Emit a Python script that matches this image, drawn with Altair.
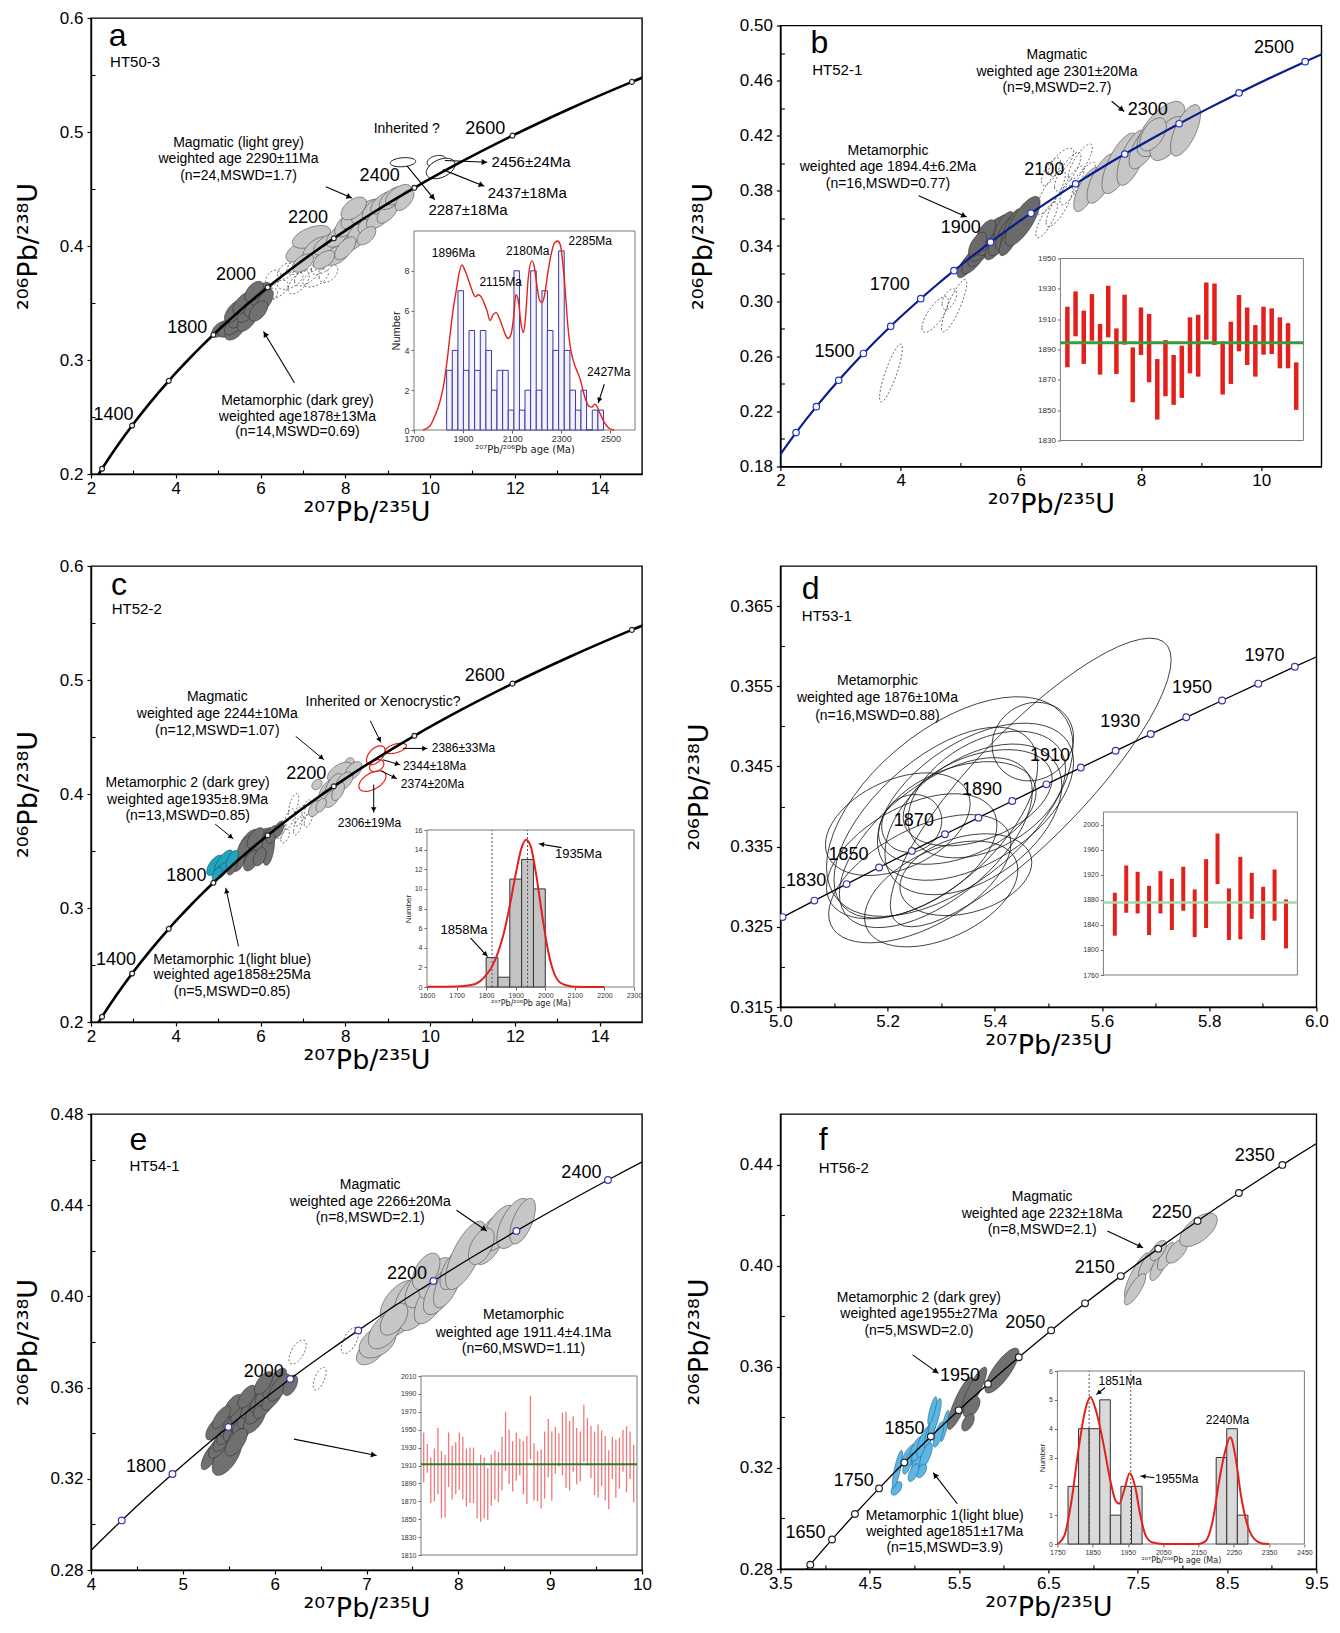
import math
import numpy as np
import pandas as pd
import altair as alt

alt.data_transformers.disable_max_rows()

SANS = "Liberation Sans, Arial, Helvetica, DejaVu Sans, sans-serif"
SUPF = "DejaVu Sans, Verdana, sans-serif"

# ---------------- Concordia reference points (age Ma, 207Pb/235U, 206Pb/238U)
CONC_AGE = [1100, 1200, 1300, 1400, 1500, 1600, 1650, 1700, 1750, 1800,
            1820, 1830, 1840, 1850, 1860, 1870, 1880, 1890, 1900, 1910, 1920, 1930, 1940, 1950,
            1960, 1970, 1980, 1990, 2000, 2050, 2100, 2150, 2200, 2250, 2300, 2350, 2400,
            2500, 2600, 2700, 2800, 2900]
CONC_X = [1.95452, 2.26030, 2.59774, 2.97010, 3.38099, 3.83443, 4.07843, 4.33477, 4.60402, 4.88691,
          5.00401, 5.06342, 5.12344, 5.18405, 5.24525, 5.30706, 5.36948, 5.43251, 5.49618, 5.56047,
          5.62540, 5.69093, 5.75715, 5.82402, 5.89156, 5.95977, 6.02873, 6.09830, 6.16854, 6.53036,
          6.91045, 7.30973, 7.72917, 8.16977, 8.63262, 9.11882, 9.62957, 10.72961, 11.94372, 13.28335,
          14.76166, 16.39294]
CONC_Y = [0.18606, 0.20460, 0.22343, 0.24256, 0.26199, 0.28172, 0.29170, 0.30175, 0.31189, 0.32210,
          0.32621, 0.32827, 0.33033, 0.33240, 0.33447, 0.33654, 0.33861, 0.34069, 0.34277, 0.34486,
          0.34695, 0.34904, 0.35113, 0.35323, 0.35533, 0.35744, 0.35954, 0.36165, 0.36377, 0.37439,
          0.38509, 0.39587, 0.40674, 0.41769, 0.42873, 0.43986, 0.45107, 0.47375, 0.49679, 0.52019,
          0.54396, 0.56810]

MARK_AC = [1200, 1400, 1600, 1800, 2000, 2200, 2400, 2600, 2800]
MARK_B = [1200, 1300, 1400, 1500, 1600, 1700, 1800, 1900, 2000, 2100, 2200, 2300, 2400, 2500]
MARK_D = [1820, 1830, 1840, 1850, 1860, 1870, 1880, 1890, 1900, 1910, 1920, 1930, 1940, 1950, 1960, 1970]
MARK_E = [1700, 1800, 1900, 2000, 2100, 2200, 2300, 2400]
MARK_F = [1600, 1650, 1700, 1750, 1800, 1850, 1900, 1950, 2000, 2050, 2100, 2150, 2200, 2250, 2300, 2350]
LINE_D = [1800, 1820, 1830, 1840, 1850, 1860, 1870, 1880, 1890, 1900, 1910, 1920, 1930, 1940, 1950,
          1960, 1970, 1980, 1990, 2000]

# ---------------- ellipses (cx, cy, sx, sy, rho)
A_DARK = [(5.05, 0.327, 0.20, 0.0070, 0.5), (5.25, 0.330, 0.25, 0.0100, 0.6), (5.38, 0.325, 0.22, 0.0075, 0.5),
          (5.45, 0.334, 0.30, 0.0120, 0.7), (5.55, 0.340, 0.30, 0.0120, 0.7), (5.40, 0.343, 0.25, 0.0100, 0.6),
          (5.70, 0.336, 0.25, 0.0110, 0.6), (5.75, 0.345, 0.30, 0.0120, 0.7), (5.60, 0.350, 0.25, 0.0100, 0.6),
          (5.90, 0.350, 0.28, 0.0120, 0.7), (6.00, 0.358, 0.25, 0.0100, 0.6), (5.85, 0.360, 0.22, 0.0090, 0.5),
          (6.10, 0.352, 0.20, 0.0100, 0.6), (5.95, 0.343, 0.22, 0.0090, 0.5)]
A_DASH = [(6.20, 0.356, 0.20, 0.0070, 0.5), (6.40, 0.362, 0.25, 0.0080, 0.5), (6.30, 0.372, 0.18, 0.0070, 0.4),
          (6.60, 0.378, 0.20, 0.0070, 0.4), (6.70, 0.370, 0.30, 0.0080, 0.5), (6.90, 0.368, 0.25, 0.0100, 0.6),
          (6.90, 0.383, 0.28, 0.0080, 0.5), (7.10, 0.375, 0.30, 0.0100, 0.6), (7.20, 0.388, 0.25, 0.0090, 0.5),
          (7.30, 0.372, 0.30, 0.0080, 0.5), (7.50, 0.385, 0.30, 0.0100, 0.6), (7.60, 0.376, 0.22, 0.0080, 0.4)]
A_LIGHT = [(6.90, 0.395, 0.30, 0.009, 0.5), (7.20, 0.408, 0.45, 0.010, 0.5), (7.30, 0.398, 0.30, 0.010, 0.6),
           (7.60, 0.402, 0.35, 0.010, 0.6), (7.80, 0.392, 0.30, 0.009, 0.5), (7.90, 0.410, 0.35, 0.011, 0.6),
           (8.10, 0.420, 0.35, 0.012, 0.6), (8.20, 0.405, 0.30, 0.010, 0.6), (8.30, 0.427, 0.40, 0.012, 0.6),
           (8.40, 0.415, 0.35, 0.012, 0.7), (8.50, 0.430, 0.35, 0.011, 0.6), (8.60, 0.421, 0.30, 0.010, 0.6),
           (8.70, 0.433, 0.30, 0.010, 0.6), (8.80, 0.425, 0.30, 0.010, 0.6), (8.90, 0.438, 0.30, 0.010, 0.6),
           (9.00, 0.430, 0.25, 0.010, 0.6), (9.10, 0.442, 0.30, 0.010, 0.6), (9.25, 0.445, 0.30, 0.009, 0.6),
           (7.50, 0.388, 0.25, 0.008, 0.5), (8.00, 0.398, 0.25, 0.010, 0.6), (7.00, 0.385, 0.25, 0.008, 0.5),
           (8.50, 0.409, 0.22, 0.008, 0.5), (9.40, 0.440, 0.22, 0.009, 0.6), (8.20, 0.433, 0.30, 0.010, 0.5)]
A_WHITE = [(9.36, 0.4735, 0.30, 0.0040, 0.2), (10.15, 0.4745, 0.22, 0.0050, 0.3), (10.25, 0.4680, 0.34, 0.0090, 0.4)]

B_DARK = [(5.10, 0.3260, 0.16, 0.0090, 0.7), (5.22, 0.3310, 0.20, 0.0110, 0.7), (5.32, 0.3360, 0.20, 0.0110, 0.7),
          (5.38, 0.3420, 0.22, 0.0130, 0.7), (5.48, 0.3440, 0.20, 0.0110, 0.7), (5.52, 0.3490, 0.22, 0.0120, 0.7),
          (5.58, 0.3400, 0.18, 0.0100, 0.7), (5.62, 0.3520, 0.20, 0.0110, 0.7), (5.68, 0.3460, 0.22, 0.0130, 0.7),
          (5.72, 0.3550, 0.16, 0.0100, 0.7), (5.78, 0.3500, 0.20, 0.0130, 0.7), (5.85, 0.3520, 0.18, 0.0150, 0.7),
          (5.80, 0.3440, 0.16, 0.0110, 0.7), (6.03, 0.3580, 0.29, 0.0180, 0.75), (5.42, 0.3500, 0.16, 0.0090, 0.6),
          (5.28, 0.3410, 0.15, 0.0090, 0.6)]
B_DASH = [(6.50, 0.379, 0.24, 0.016, 0.8), (6.64, 0.369, 0.22, 0.015, 0.8), (6.78, 0.394, 0.22, 0.014, 0.8),
          (6.99, 0.401, 0.20, 0.013, 0.8), (6.43, 0.359, 0.18, 0.013, 0.8), (6.85, 0.384, 0.20, 0.014, 0.8),
          (6.67, 0.401, 0.21, 0.010, 0.7), (7.06, 0.389, 0.18, 0.012, 0.8), (6.50, 0.394, 0.16, 0.010, 0.7),
          (4.575, 0.2903, 0.22, 0.013, 0.75), (4.89, 0.2966, 0.21, 0.019, 0.85), (4.81, 0.3015, 0.12, 0.0075, 0.5),
          (3.84, 0.2479, 0.19, 0.021, 0.85)]
B_LIGHT = [(7.10, 0.381, 0.22, 0.016, 0.7), (7.35, 0.389, 0.25, 0.018, 0.7), (7.65, 0.400, 0.30, 0.022, 0.7),
           (7.85, 0.404, 0.25, 0.020, 0.65), (8.05, 0.412, 0.25, 0.016, 0.65), (8.33, 0.4249, 0.40, 0.020, 0.65),
           (8.45, 0.418, 0.30, 0.016, 0.6), (8.74, 0.4239, 0.25, 0.0187, 0.65), (8.20, 0.421, 0.22, 0.012, 0.5)]

C_BLUE = [(4.93, 0.3374, 0.20, 0.0090, 0.6), (5.13, 0.3404, 0.22, 0.0105, 0.7), (5.08, 0.3328, 0.15, 0.0070, 0.6),
          (5.33, 0.3425, 0.15, 0.0080, 0.6), (4.98, 0.3298, 0.12, 0.0060, 0.5)]
C_DARK = [(5.58, 0.3464, 0.20, 0.0100, 0.6), (5.73, 0.3570, 0.25, 0.0120, 0.6), (5.88, 0.3510, 0.20, 0.0100, 0.6),
          (6.03, 0.3600, 0.20, 0.0100, 0.6), (6.18, 0.3540, 0.15, 0.0166, 0.3), (6.28, 0.3645, 0.15, 0.0080, 0.5),
          (5.48, 0.3400, 0.15, 0.0080, 0.5), (5.78, 0.3415, 0.18, 0.0090, 0.5), (5.63, 0.3540, 0.18, 0.0090, 0.6),
          (5.98, 0.3450, 0.15, 0.0080, 0.4), (6.43, 0.3690, 0.12, 0.0070, 0.5), (5.88, 0.3615, 0.20, 0.0090, 0.6),
          (5.33, 0.3360, 0.12, 0.0070, 0.5)]
C_DASH = [(6.48, 0.369, 0.12, 0.008, 0.6), (6.68, 0.378, 0.12, 0.009, 0.6), (6.78, 0.390, 0.12, 0.0105, 0.6),
          (6.93, 0.381, 0.12, 0.009, 0.6), (7.08, 0.387, 0.10, 0.008, 0.6), (6.88, 0.372, 0.10, 0.008, 0.6),
          (7.13, 0.378, 0.10, 0.007, 0.6), (6.58, 0.363, 0.10, 0.006, 0.5)]
C_LIGHT = [(8.09, 0.4264, 0.12, 0.0055, 0.3), (7.88, 0.4189, 0.30, 0.0090, 0.5), (8.19, 0.4204, 0.20, 0.0080, 0.5),
           (7.33, 0.4083, 0.12, 0.0045, 0.3), (7.58, 0.4038, 0.20, 0.0090, 0.6), (7.73, 0.4080, 0.20, 0.0100, 0.6),
           (7.48, 0.3947, 0.20, 0.0090, 0.6), (7.68, 0.3962, 0.18, 0.0080, 0.5), (7.28, 0.3872, 0.15, 0.0070, 0.5),
           (7.98, 0.4113, 0.20, 0.0080, 0.5), (7.43, 0.3902, 0.12, 0.0060, 0.4), (7.83, 0.4023, 0.15, 0.0080, 0.5)]
C_RED = [(9.19, 0.4400, 0.25, 0.0045, 0.5), (8.72, 0.4340, 0.22, 0.0083, 0.5), (8.74, 0.4249, 0.17, 0.0053, 0.3),
         (8.64, 0.4113, 0.32, 0.0090, 0.5)]

D_ELL = [(5.467, 0.3430, 0.262, 0.0180, 0.85), (5.316, 0.3400, 0.230, 0.0137, 0.55), (5.290, 0.3380, 0.190, 0.0119, 0.60),
         (5.290, 0.3355, 0.180, 0.0106, 0.60), (5.364, 0.3406, 0.183, 0.0098, 0.50), (5.360, 0.3384, 0.165, 0.0094, 0.45),
         (5.385, 0.3415, 0.147, 0.0079, 0.40), (5.245, 0.3338, 0.159, 0.0078, 0.50), (5.300, 0.3291, 0.143, 0.0066, 0.45),
         (5.330, 0.3392, 0.147, 0.0064, 0.40), (5.471, 0.3481, 0.076, 0.0049, 0.10), (5.245, 0.3379, 0.056, 0.0036, 0.10),
         (5.346, 0.3315, 0.123, 0.0051, 0.30), (5.219, 0.3378, 0.135, 0.0064, 0.40), (5.368, 0.3411, 0.139, 0.0060, 0.40),
         (5.260, 0.3310, 0.170, 0.0080, 0.55)]

E_DARK = [(5.30, 0.3300, 0.10, 0.0060, 0.7), (5.48, 0.3300, 0.16, 0.0085, 0.6), (5.40, 0.3350, 0.12, 0.0060, 0.7),
          (5.45, 0.3380, 0.12, 0.0060, 0.7), (5.50, 0.3410, 0.13, 0.0060, 0.7), (5.52, 0.3440, 0.12, 0.0055, 0.7),
          (5.58, 0.3430, 0.14, 0.0065, 0.7), (5.60, 0.3470, 0.12, 0.0060, 0.7), (5.62, 0.3400, 0.12, 0.0055, 0.6),
          (5.65, 0.3500, 0.13, 0.0060, 0.7), (5.68, 0.3450, 0.14, 0.0065, 0.7), (5.72, 0.3480, 0.13, 0.0060, 0.7),
          (5.75, 0.3520, 0.12, 0.0055, 0.7), (5.78, 0.3460, 0.12, 0.0060, 0.6), (5.82, 0.3510, 0.14, 0.0070, 0.7),
          (5.85, 0.3550, 0.12, 0.0060, 0.7), (5.90, 0.3530, 0.13, 0.0065, 0.7), (5.93, 0.3590, 0.14, 0.0070, 0.7),
          (5.98, 0.3560, 0.12, 0.0060, 0.7), (6.00, 0.3620, 0.13, 0.0065, 0.7), (6.05, 0.3600, 0.12, 0.0060, 0.7),
          (6.17, 0.3610, 0.08, 0.0045, 0.5), (5.55, 0.3520, 0.10, 0.0050, 0.6), (5.70, 0.3560, 0.10, 0.0050, 0.6),
          (5.35, 0.3420, 0.10, 0.0050, 0.6), (5.88, 0.3620, 0.10, 0.0050, 0.6), (5.42, 0.3470, 0.10, 0.0050, 0.7),
          (5.58, 0.3360, 0.12, 0.0060, 0.6)]
E_DASH = [(6.25, 0.3756, 0.094, 0.0053, 0.6), (6.49, 0.3639, 0.070, 0.0050, 0.6), (6.82, 0.3806, 0.094, 0.0058, 0.6)]
E_LIGHT = [(7.05, 0.3760, 0.16, 0.0060, 0.5), (7.12, 0.3800, 0.20, 0.0070, 0.4), (7.40, 0.3930, 0.25, 0.0110, 0.65),
           (7.35, 0.3980, 0.20, 0.0090, 0.6), (7.50, 0.4000, 0.20, 0.0100, 0.6), (7.55, 0.3950, 0.20, 0.0100, 0.6),
           (7.62, 0.4050, 0.20, 0.0100, 0.6), (7.70, 0.3980, 0.18, 0.0100, 0.6), (7.75, 0.4080, 0.18, 0.0090, 0.6),
           (7.80, 0.4020, 0.18, 0.0100, 0.6), (7.88, 0.4050, 0.15, 0.0100, 0.6), (7.95, 0.4120, 0.15, 0.0090, 0.6),
           (8.08, 0.4180, 0.22, 0.0150, 0.7), (8.35, 0.4250, 0.18, 0.0110, 0.6), (8.45, 0.4300, 0.18, 0.0100, 0.6),
           (8.60, 0.4320, 0.18, 0.0110, 0.6), (8.70, 0.4330, 0.14, 0.0100, 0.6), (7.20, 0.3850, 0.18, 0.0080, 0.5),
           (7.30, 0.3900, 0.15, 0.0070, 0.5), (7.65, 0.4110, 0.15, 0.0080, 0.5), (8.25, 0.4220, 0.14, 0.0080, 0.5)]

F_BLUE = [(4.80, 0.3119, 0.061, 0.0027, 0.5), (4.81, 0.3195, 0.057, 0.0075, 0.8), (4.96, 0.3249, 0.100, 0.0048, 0.6),
          (5.06, 0.3222, 0.094, 0.0048, 0.6), (5.04, 0.3277, 0.090, 0.0050, 0.6), (5.11, 0.3304, 0.085, 0.0062, 0.7),
          (5.18, 0.3345, 0.070, 0.0068, 0.8), (5.23, 0.3400, 0.070, 0.0075, 0.8), (5.34, 0.3366, 0.047, 0.0062, 0.8),
          (5.27, 0.3332, 0.060, 0.0050, 0.7), (5.13, 0.3249, 0.070, 0.0050, 0.7), (5.08, 0.3188, 0.057, 0.0027, 0.5),
          (5.20, 0.3427, 0.050, 0.0055, 0.8), (4.99, 0.3181, 0.060, 0.0035, 0.6), (4.92, 0.3215, 0.050, 0.0040, 0.6)]
F_DARK = [(5.51, 0.3455, 0.14, 0.0103, 0.85), (5.67, 0.3510, 0.14, 0.0089, 0.85), (5.64, 0.3441, 0.094, 0.0041, 0.5),
          (5.60, 0.3380, 0.07, 0.0034, 0.5), (5.98, 0.3585, 0.19, 0.0089, 0.8)]
F_LIGHT = [(7.49, 0.3962, 0.14, 0.0089, 0.85), (7.63, 0.4016, 0.12, 0.0062, 0.8), (7.73, 0.3996, 0.094, 0.0055, 0.7),
           (7.82, 0.4037, 0.10, 0.0055, 0.7), (7.94, 0.4058, 0.12, 0.0048, 0.6), (8.18, 0.4142, 0.21, 0.0066, 0.6),
           (7.73, 0.4060, 0.09, 0.0040, 0.6), (7.47, 0.3907, 0.12, 0.0062, 0.8)]

# ---------------- inset data
HIST_A_LEFT = [1833, 1856, 1879, 1901, 1924, 1947, 1970, 1993, 2015, 2038, 2061, 2084, 2107, 2129,
               2152, 2175, 2198, 2221, 2243, 2266, 2289, 2312, 2335, 2357, 2380, 2403, 2426, 2449]
HIST_A_COUNT = [3, 4, 7, 3, 5, 3, 5, 4, 2, 3, 3, 1, 8, 1, 2, 8, 2, 7, 5, 4, 9, 4, 2, 1, 2, 0, 1, 1]
HIST_A_WIDTH = 22.8
KDE_A_AGE = [1737, 1765, 1785, 1805, 1820, 1835, 1847, 1860, 1872, 1884, 1895, 1908, 1923, 1937, 1950, 1962,
             1973, 1985, 1997, 2010, 2022, 2035, 2048, 2060, 2072, 2083, 2095, 2105, 2115, 2125, 2135, 2146,
             2155, 2165, 2180, 2190, 2200, 2212, 2222, 2232, 2245, 2258, 2272, 2285, 2296, 2306, 2316, 2326,
             2336, 2346, 2356, 2366, 2378, 2390, 2400, 2412, 2425, 2435, 2445, 2455, 2470, 2485, 2500, 2515]
KDE_A_VAL = [0.0, 0.2, 0.7, 1.4, 2.2, 3.5, 4.8, 6.1, 7.0, 7.9, 8.3, 8.0, 7.5, 7.0, 6.7, 6.8,
             6.7, 6.4, 6.0, 5.5, 5.8, 5.9, 5.6, 5.2, 4.8, 4.6, 4.8, 5.6, 6.8, 6.5, 5.4, 4.9,
             5.8, 7.6, 8.5, 8.2, 7.3, 6.5, 6.4, 6.8, 7.9, 8.8, 9.4, 9.5, 9.3, 8.4, 7.0, 5.3,
             4.2, 3.6, 3.2, 2.9, 2.5, 1.9, 1.5, 1.2, 1.15, 1.3, 1.2, 0.9, 0.5, 0.2, 0.05, 0.0]

B_LO = [1878.3, 1898.7, 1880.5, 1895.8, 1873.4, 1898.0, 1873.9, 1893.2, 1855.2, 1886.4,
        1868.4, 1843.8, 1859.2, 1853.5, 1858.1, 1874.3, 1872.1, 1896.5, 1893.0, 1860.3,
        1867.3, 1888.8, 1879.8, 1872.1, 1886.6, 1887.0, 1877.6, 1877.6, 1850.2]
B_HI = [1918.2, 1928.3, 1915.6, 1926.5, 1906.8, 1932.0, 1903.9, 1926.1, 1891.4, 1917.7,
        1913.4, 1883.7, 1896.2, 1886.4, 1892.5, 1911.2, 1912.9, 1934.2, 1933.5, 1895.2,
        1908.3, 1925.9, 1917.7, 1906.1, 1918.2, 1917.1, 1911.2, 1907.4, 1881.5]
B_MEAN = 1894.4

HIST_C_LEFT = [1800, 1840, 1880, 1920, 1960]
HIST_C_COUNT = [3, 1, 11, 13, 10]
HIST_C_WIDTH = 40
KDE_C_AGE = [1600, 1700, 1750, 1780, 1800, 1820, 1840, 1860, 1880, 1900, 1920, 1935, 1950, 1970, 1990,
             2010, 2030, 2050, 2080, 2100, 2200]
KDE_C_VAL = [0.02, 0.05, 0.2, 0.6, 1.2, 2.1, 3.5, 5.5, 8.3, 11.5, 14.2, 15.0, 14.4, 11.3, 7.2,
             3.6, 1.4, 0.45, 0.1, 0.03, 0.0]
PEAK_C = [1820, 1940]

D_LO = [1822.7, 1859.3, 1858.2, 1823.7, 1858.2, 1831.7, 1862.5, 1820.5, 1834.9, 1905.0,
        1815.8, 1816.8, 1849.7, 1815.8, 1846.6, 1802.5]
D_HI = [1891.2, 1934.7, 1924.6, 1902.3, 1925.7, 1913.5, 1932.6, 1896.5, 1944.8, 1985.7,
        1898.1, 1948.5, 1923.0, 1900.7, 1928.3, 1880.5]
D_MEAN = 1875.8

E_LO = [1891, 1902, 1868, 1870, 1878, 1851, 1852, 1886, 1872, 1878,
        1883, 1872, 1864, 1868, 1868, 1851, 1847, 1851, 1849, 1865,
        1872, 1869, 1882, 1904, 1889, 1881, 1893, 1899, 1878, 1867,
        1917, 1871, 1870, 1862, 1873, 1897, 1871, 1901, 1909, 1899,
        1885, 1882, 1903, 1889, 1892, 1914, 1910, 1896, 1877, 1874,
        1887, 1871, 1861, 1895, 1874, 1884, 1903, 1880, 1895, 1869]
E_HI = [1947, 1934, 1919, 1929, 1952, 1926, 1922, 1947, 1932, 1936,
        1947, 1942, 1929, 1930, 1930, 1912, 1922, 1919, 1907, 1922,
        1927, 1925, 1942, 1970, 1950, 1937, 1947, 1940, 1937, 1943,
        1988, 1935, 1926, 1928, 1948, 1962, 1948, 1953, 1946, 1969,
        1970, 1960, 1965, 1952, 1948, 1978, 1963, 1954, 1948, 1956,
        1949, 1943, 1927, 1942, 1939, 1941, 1950, 1954, 1948, 1933]
E_MEAN = 1911.4

HIST_F_LEFT = [1780, 1810, 1840, 1870, 1900, 1930, 1960, 2200, 2230, 2260]
HIST_F_COUNT = [2, 4, 4, 5, 1, 2, 2, 3, 4, 1]
HIST_F_WIDTH = 30
KDE_F_AGE = [1750, 1770, 1790, 1810, 1830, 1843, 1860, 1880, 1900, 1915, 1925, 1940, 1955, 1970, 1985,
             2000, 2020, 2050, 2150, 2170, 2190, 2210, 2225, 2240, 2255, 2270, 2290, 2310, 2330, 2350]
KDE_F_VAL = [0.0, 0.3, 1.5, 3.3, 4.7, 5.1, 4.6, 3.5, 2.2, 1.5, 1.4, 1.9, 2.45, 2.0, 1.0,
             0.3, 0.05, 0.0, 0.0, 0.1, 0.8, 2.3, 3.2, 3.7, 3.0, 1.7, 0.6, 0.15, 0.02, 0.0]
PEAK_F = [1840, 1958]

CONC = pd.DataFrame({"age": CONC_AGE, "x": CONC_X, "y": CONC_Y})


# ---------------- helpers
def mscale(xd, yd):
    return (alt.Scale(domain=xd, nice=False, zero=False),
            alt.Scale(domain=yd, nice=False, zero=False))


def main_axes(xvals, xfmt, yvals, yfmt, ext=40, tpad=9):
    common = dict(grid=False, labelFont=SANS, labelFontSize=17, labelColor="black", labelFlush=False,
                  labelOverlap=False, tickSize=4, tickColor="black", tickWidth=1.2,
                  domainColor="black", domainWidth=1.4, titleFont=SUPF, titleFontSize=27,
                  titleFontWeight="normal", titleColor="black")
    xa = alt.Axis(values=xvals, format=xfmt, title="²⁰⁷Pb/²³⁵U", labelPadding=2, titlePadding=3, **common)
    ya = alt.Axis(values=yvals, format=yfmt, title="²⁰⁶Pb/²³⁸U", labelPadding=4, titlePadding=tpad,
                  minExtent=ext, maxExtent=ext, **common)
    return xa, ya


def minor_ticks(sx, sy, xd, yd, xvals, yvals, W, H):
    df = pd.DataFrame({"v": [(xd[0] + xd[1]) / 2.0], "w": [(yd[0] + yd[1]) / 2.0]})
    tk = dict(labels=False, domain=False, grid=False, ticks=True, tickSize=4, tickColor="black",
              tickWidth=1.1, title=None)
    xa = alt.Axis(orient="top", offset=-H, values=xvals, **tk)
    ya = alt.Axis(orient="right", offset=-W, values=yvals, **tk)
    return alt.Chart(df).mark_point(opacity=0).encode(
        x=alt.X("v:Q", scale=sx, axis=xa), y=alt.Y("w:Q", scale=sy, axis=ya))


def ellipse_df(params, n=28):
    rows = []
    for i, (cx, cy, sx, sy, rho) in enumerate(params):
        c = math.sqrt(max(0.0, 1.0 - rho * rho))
        for k in range(n + 1):
            u = -math.cos(math.pi * k / n)
            w = math.sqrt(max(0.0, 1.0 - u * u))
            rows.append((i, round(cx + sx * u, 5),
                         round(cy + sy * (rho * u - c * w), 6),
                         round(cy + sy * (rho * u + c * w), 6)))
    return pd.DataFrame(rows, columns=["eid", "x", "ylo", "yhi"])


def ellipses(params, sx, sy, fill=None, stroke="#333333", sw=0.6, dash=None):
    kw = dict(stroke=stroke, strokeWidth=sw, clip=True, interpolate="linear", opacity=1)
    if fill is None:
        kw.update(fill="white", fillOpacity=0)
    else:
        kw.update(fill=fill, fillOpacity=1)
    if dash is not None:
        kw["strokeDash"] = dash
    return alt.Chart(ellipse_df(params)).mark_area(**kw).encode(
        x=alt.X("x:Q", scale=sx, axis=None),
        y=alt.Y("ylo:Q", scale=sy, axis=None, stack=None),
        y2="yhi:Q",
        detail="eid:N")


def concordia(sx, sy, xa, ya, ages_line, ages_mark, color, width, mstroke, msize):
    dl = CONC[CONC["age"].isin(ages_line)]
    dm = CONC[CONC["age"].isin(ages_mark)]
    line = alt.Chart(dl).mark_line(color=color, strokeWidth=width, interpolate="monotone", clip=True).encode(
        x=alt.X("x:Q", scale=sx, axis=xa), y=alt.Y("y:Q", scale=sy, axis=ya))
    pts = alt.Chart(dm).mark_point(shape="circle", filled=True, fill="white", stroke=mstroke, strokeWidth=1.2,
                                   size=msize, opacity=1, clip=True).encode(
        x=alt.X("x:Q", scale=sx, axis=None), y=alt.Y("y:Q", scale=sy, axis=None))
    return [line, pts]


def texts(items, sx, sy, size, align="center", color="black", font=SANS):
    df = pd.DataFrame(items, columns=["t", "x", "y"])
    return alt.Chart(df).mark_text(font=font, fontSize=size, align=align, baseline="middle", color=color).encode(
        x=alt.X("x:Q", scale=sx, axis=None), y=alt.Y("y:Q", scale=sy, axis=None), text="t:N")


def arrows(items, sx, sy, kx, ky, color="black", width=1.1, head=38):
    df = pd.DataFrame(items, columns=["x1", "y1", "x2", "y2"])
    dxs = (df["x2"] - df["x1"]) * kx
    dys = (df["y2"] - df["y1"]) * ky
    ln = np.hypot(dxs, dys)
    df["ang"] = (np.degrees(np.arctan2(dxs, dys)) + 360.0) % 360.0
    df["hx"] = df["x2"] - dxs / ln * 3.0 / kx
    df["hy"] = df["y2"] - dys / ln * 3.0 / ky
    shaft = alt.Chart(df).mark_rule(color=color, strokeWidth=width).encode(
        x=alt.X("x1:Q", scale=sx, axis=None), y=alt.Y("y1:Q", scale=sy, axis=None),
        x2="x2:Q", y2="y2:Q")
    tip = alt.Chart(df).mark_point(shape="triangle-up", filled=True, color=color, size=head, opacity=1).encode(
        x=alt.X("hx:Q", scale=sx, axis=None), y=alt.Y("hy:Q", scale=sy, axis=None),
        angle=alt.Angle("ang:Q", scale=None))
    return [shaft, tip]


def inset_scales(xd, yd, xr, yr):
    return (alt.Scale(domain=xd, range=[xr[0], xr[1]], nice=False, zero=False),
            alt.Scale(domain=yd, range=[yr[1], yr[0]], nice=False, zero=False))


def inset_xaxis(values, H, ybot, title, fs=8, tfs=9):
    return alt.Axis(orient="bottom", offset=ybot - H, values=values, format="d", grid=False, domain=False,
                    labelFont=SANS, labelFontSize=fs, labelColor="#333333", labelFlush=False, labelPadding=1,
                    labelOverlap=False, tickSize=3, tickColor="#666666",
                    title=title, titleFont=SUPF, titleFontSize=tfs, titleFontWeight="normal",
                    titleColor="#222222", titlePadding=1)


def inset_yaxis(values, x0, title, fs=8, tfs=9):
    return alt.Axis(orient="left", offset=-x0, values=values, format="d", grid=False, domain=False,
                    labelFont=SANS, labelFontSize=fs, labelColor="#333333", labelPadding=2,
                    labelOverlap=False, tickSize=3, tickColor="#666666",
                    title=title, titleFont=SANS, titleFontSize=tfs, titleFontWeight="normal",
                    titleColor="#222222", titlePadding=2)


def inset_frame(xd, yd, sx, sy, xaxis, yaxis):
    df = pd.DataFrame({"x0": [xd[0]], "x1": [xd[1]], "y0": [yd[0]], "y1": [yd[1]]})
    return alt.Chart(df).mark_rect(fill="white", stroke="#7a7a7a", strokeWidth=1).encode(
        x=alt.X("x0:Q", scale=sx, axis=xaxis), x2="x1:Q",
        y=alt.Y("y0:Q", scale=sy, axis=yaxis), y2="y1:Q")


def hist_layer(lefts, counts, width, sx, sy, fill, stroke, sw=1.0):
    df = pd.DataFrame({"l": lefts, "c": counts})
    df["r"] = df["l"] + width
    df["z"] = 0
    return alt.Chart(df).mark_rect(fill=fill, stroke=stroke, strokeWidth=sw).encode(
        x=alt.X("l:Q", scale=sx, axis=None), x2="r:Q",
        y=alt.Y("z:Q", scale=sy, axis=None), y2="c:Q")


def curve_layer(xs, ys, sx, sy, color="#e3201b", w=1.6):
    df = pd.DataFrame({"a": xs, "v": ys})
    return alt.Chart(df).mark_line(color=color, strokeWidth=w, interpolate="monotone").encode(
        x=alt.X("a:Q", scale=sx, axis=None), y=alt.Y("v:Q", scale=sy, axis=None))


def bars_layer(los, his, sx, sy, color, w):
    df = pd.DataFrame({"i": list(range(1, len(los) + 1)), "lo": los, "hi": his})
    return alt.Chart(df).mark_rule(color=color, strokeWidth=w).encode(
        x=alt.X("i:Q", scale=sx, axis=None), y=alt.Y("lo:Q", scale=sy, axis=None), y2="hi:Q")


def hline_layer(yv, xd, sx, sy, color, w):
    df = pd.DataFrame({"x0": [xd[0]], "x1": [xd[1]], "y": [yv]})
    return alt.Chart(df).mark_rule(color=color, strokeWidth=w).encode(
        x=alt.X("x0:Q", scale=sx, axis=None), x2="x1:Q", y=alt.Y("y:Q", scale=sy, axis=None))


def vlines_layer(xs, y0, y1, sx, sy, color="#555555"):
    df = pd.DataFrame({"x": xs, "y0": [y0] * len(xs), "y1": [y1] * len(xs)})
    return alt.Chart(df).mark_rule(color=color, strokeWidth=1, strokeDash=[2, 2]).encode(
        x=alt.X("x:Q", scale=sx, axis=None), y=alt.Y("y0:Q", scale=sy, axis=None), y2="y1:Q")


def panel(main_layers, inset_layers, W, H):
    return (alt.layer(*main_layers, *inset_layers)
            .resolve_scale(x="independent", y="independent")
            .resolve_axis(x="independent", y="independent")
            .properties(width=W, height=H))


DARK = "#707070"
LIGHT = "#c6c6c6"
EDGE = "#333333"
DASH = [2, 2]

# =============== panel a ===============
WA, HA = 551, 456
XDA, YDA = [2, 15], [0.2, 0.6]
sxa, sya = mscale(XDA, YDA)
xaa, yaa = main_axes([2, 4, 6, 8, 10, 12, 14], "d", [0.2, 0.3, 0.4, 0.5, 0.6], ".1f")
ka = (WA / 13.0, HA / 0.4)
A_AGE_LABELS = [("1400", 2.53, 0.252), ("1800", 4.27, 0.328), ("2000", 5.42, 0.375), ("2200", 7.12, 0.425),
                ("2400", 8.81, 0.461), ("2600", 11.3, 0.503)]
A_NOTES = [("Inherited ?", 9.45, 0.503), ("Magmatic (light grey)", 5.48, 0.490),
           ("weighted age 2290±11Ma", 5.48, 0.476), ("(n=24,MSWD=1.7)", 5.48, 0.461),
           ("Metamorphic (dark grey)", 6.87, 0.264), ("weighted age1878±13Ma", 6.87, 0.250),
           ("(n=14,MSWD=0.69)", 6.87, 0.237)]
A_AGE_NOTES = [("2456±24Ma", 11.45, 0.474), ("2437±18Ma", 11.36, 0.4465), ("2287±18Ma", 9.96, 0.4315)]
A_ARROWS = [(10.35, 0.475, 11.35, 0.4735), (10.3, 0.467, 11.28, 0.4525), (9.46, 0.470, 10.11, 0.4405),
            (7.54, 0.452, 8.16, 0.442), (6.80, 0.280, 6.07, 0.325)]
main_a = [
    ellipses(A_DASH, sxa, sya, None, "#444444", 0.8, DASH),
    ellipses(A_DARK, sxa, sya, DARK, EDGE),
    ellipses(A_LIGHT, sxa, sya, LIGHT, "#4a4a4a"),
    ellipses(A_WHITE, sxa, sya, "white", "#111111", 1.0),
    *concordia(sxa, sya, xaa, yaa, CONC_AGE, MARK_AC, "black", 2.6, "#222222", 24),
    minor_ticks(sxa, sya, XDA, YDA, [3, 5, 7, 9, 11, 13], [0.25, 0.35, 0.45, 0.55], WA, HA),
    texts([("a", 2.42, 0.584)], sxa, sya, 32, align="left"),
    texts([("HT50-3", 2.45, 0.5615)], sxa, sya, 15, align="left"),
    texts(A_AGE_LABELS, sxa, sya, 18),
    texts(A_NOTES, sxa, sya, 14),
    texts(A_AGE_NOTES, sxa, sya, 15, align="left"),
    *arrows(A_ARROWS, sxa, sya, ka[0], ka[1]),
]
IXA, IYA = (323, 544), (213, 412)
IXDA, IYDA = [1700, 2600], [0, 10]
ixa, iya = inset_scales(IXDA, IYDA, IXA, IYA)
kia = ((IXA[1] - IXA[0]) / 900.0, (IYA[1] - IYA[0]) / 10.0)
inset_a = [
    inset_frame(IXDA, IYDA, ixa, iya,
                inset_xaxis([1700, 1900, 2100, 2300, 2500], HA, IYA[1], "²⁰⁷Pb/²⁰⁶Pb age (Ma)", 9, 10),
                inset_yaxis([0, 2, 4, 6, 8], IXA[0], "Number", 9, 11)),
    hist_layer(HIST_A_LEFT, HIST_A_COUNT, HIST_A_WIDTH, ixa, iya, "#f2f2fb", "#3b3ba0", 1.0),
    curve_layer(KDE_A_AGE, KDE_A_VAL, ixa, iya, "#e3201b", 1.4),
    texts([("1896Ma", 1861, 8.9), ("2115Ma", 2053, 7.45), ("2180Ma", 2163, 9.0), ("2285Ma", 2418, 9.5),
           ("2427Ma", 2493, 2.9)], ixa, iya, 12),
    *arrows([(2475, 2.3, 2450, 1.35)], ixa, iya, kia[0], kia[1], head=30),
]
panel_a = panel(main_a, inset_a, WA, HA)

# =============== panel b ===============
WB, HB = 541, 441
XDB, YDB = [2, 11], [0.18, 0.50]
sxb, syb = mscale(XDB, YDB)
xab, yab = main_axes([2, 4, 6, 8, 10], "d", [0.18, 0.22, 0.26, 0.30, 0.34, 0.38, 0.42, 0.46, 0.50], ".2f",
                     ext=46, tpad=17)
kb = (WB / 9.0, HB / 0.32)
B_AGE_LABELS = [("1500", 2.9, 0.2628), ("1700", 3.82, 0.3115), ("1900", 5.0, 0.3527), ("2100", 6.39, 0.3952),
                ("2300", 8.11, 0.4388), ("2500", 10.21, 0.4838)]
B_NOTES = [("Magmatic", 6.6, 0.4788), ("weighted age 2301±20Ma", 6.6, 0.4663), ("(n=9,MSWD=2.7)", 6.6, 0.4543),
           ("Metamorphic", 3.79, 0.4089), ("weighted age 1894.4±6.2Ma", 3.79, 0.3971),
           ("(n=16,MSWD=0.77)", 3.79, 0.3852)]
B_ARROWS = [(7.51, 0.445, 7.72, 0.4376), (4.30, 0.3764, 5.10, 0.3610)]
main_b = [
    ellipses(B_DASH, sxb, syb, None, "#444444", 0.8, DASH),
    ellipses(B_DARK, sxb, syb, "#6a6a6a", EDGE),
    ellipses(B_LIGHT, sxb, syb, LIGHT, "#4a4a4a"),
    *concordia(sxb, syb, xab, yab, CONC_AGE, MARK_B, "#0b1c8c", 2.2, "#2233cc", 42),
    minor_ticks(sxb, syb, XDB, YDB, [3, 5, 7, 9], [0.20, 0.24, 0.28, 0.32, 0.36, 0.40, 0.44, 0.48], WB, HB),
    texts([("b", 2.5, 0.4875)], sxb, syb, 32, align="left"),
    texts([("HT52-1", 2.53, 0.4676)], sxb, syb, 15, align="left"),
    texts(B_AGE_LABELS, sxb, syb, 18),
    texts(B_NOTES, sxb, syb, 14),
    *arrows(B_ARROWS, sxb, syb, kb[0], kb[1]),
]
IXB, IYB = (280, 523), (233, 415)
IXDB, IYDB = [0.145, 29.88], [1830, 1950]
ixb, iyb = inset_scales(IXDB, IYDB, IXB, IYB)
inset_b = [
    inset_frame(IXDB, IYDB, ixb, iyb, None,
                inset_yaxis([1830, 1850, 1870, 1890, 1910, 1930, 1950], IXB[0], None, 8)),
    bars_layer(B_LO, B_HI, ixb, iyb, "#e3201b", 4.5),
    hline_layer(B_MEAN, IXDB, ixb, iyb, "#3a9b3a", 3),
]
panel_b = panel(main_b, inset_b, WB, HB)

# =============== panel c ===============
WC, HC = 551, 456
XDC, YDC = [2, 15], [0.2, 0.6]
sxc, syc = mscale(XDC, YDC)
xac, yac = main_axes([2, 4, 6, 8, 10, 12, 14], "d", [0.2, 0.3, 0.4, 0.5, 0.6], ".1f")
kc = (WC / 13.0, HC / 0.4)
C_AGE_LABELS = [("1400", 2.59, 0.2543), ("1800", 4.25, 0.3283), ("2200", 7.08, 0.4174), ("2600", 11.29, 0.5034)]
C_NOTES = [("Magmatic", 4.98, 0.4847), ("weighted age 2244±10Ma", 4.98, 0.4702), ("(n=12,MSWD=1.07)", 4.98, 0.4557),
           ("Inherited or Xenocrystic?", 8.89, 0.4808),
           ("Metamorphic 2 (dark grey)", 4.28, 0.4098), ("weighted age1935±8.9Ma", 4.28, 0.3947),
           ("(n=13,MSWD=0.85)", 4.28, 0.3805),
           ("Metamorphic 1(light blue)", 5.33, 0.2543), ("weighted age1858±25Ma", 5.33, 0.2408),
           ("(n=5,MSWD=0.85)", 5.33, 0.2263)]
C_SMALL_LEFT = [("2386±33Ma", 10.04, 0.4406), ("2344±18Ma", 9.36, 0.4243), ("2374±20Ma", 9.31, 0.4092)]
C_SMALL_CENTER = [("2306±19Ma", 8.57, 0.3745)]
C_ARROWS = [(6.83, 0.4506, 7.50, 0.430), (8.59, 0.4642, 8.84, 0.4451), (9.36, 0.440, 9.94, 0.440),
            (8.89, 0.430, 9.30, 0.4255), (8.84, 0.4204, 9.22, 0.4134), (8.67, 0.4083, 8.67, 0.3836),
            (4.93, 0.3736, 5.36, 0.3606), (5.48, 0.2664, 5.18, 0.3177)]
main_c = [
    ellipses(C_DASH, sxc, syc, None, "#444444", 0.8, DASH),
    ellipses(C_DARK, sxc, syc, DARK, EDGE),
    ellipses(C_BLUE, sxc, syc, "#22a3bd", "#1d4f5a"),
    ellipses(C_LIGHT, sxc, syc, LIGHT, "#4a4a4a"),
    ellipses(C_RED, sxc, syc, None, "#e3201b", 1.2),
    *concordia(sxc, syc, xac, yac, CONC_AGE, MARK_AC, "black", 2.6, "#222222", 24),
    minor_ticks(sxc, syc, XDC, YDC, [3, 5, 7, 9, 11, 13], [0.25, 0.35, 0.45, 0.55], WC, HC),
    texts([("c", 2.47, 0.583)], sxc, syc, 32, align="left"),
    texts([("HT52-2", 2.49, 0.562)], sxc, syc, 15, align="left"),
    texts(C_AGE_LABELS, sxc, syc, 18),
    texts(C_NOTES, sxc, syc, 14),
    texts(C_SMALL_LEFT, sxc, syc, 12, align="left"),
    texts(C_SMALL_CENTER, sxc, syc, 12),
    *arrows(C_ARROWS, sxc, syc, kc[0], kc[1], width=1.0, head=30),
]
IXC, IYC = (336, 543), (264, 421)
IXDC, IYDC = [1600, 2300], [0, 16]
ixc, iyc = inset_scales(IXDC, IYDC, IXC, IYC)
kic = ((IXC[1] - IXC[0]) / 700.0, (IYC[1] - IYC[0]) / 16.0)
inset_c = [
    inset_frame(IXDC, IYDC, ixc, iyc,
                inset_xaxis([1600, 1700, 1800, 1900, 2000, 2100, 2200, 2300], HC, IYC[1],
                            "²⁰⁷Pb/²⁰⁶Pb age (Ma)", 7, 8),
                inset_yaxis([0, 2, 4, 6, 8, 10, 12, 14, 16], IXC[0], "Number", 7, 8)),
    hist_layer(HIST_C_LEFT, HIST_C_COUNT, HIST_C_WIDTH, ixc, iyc, "#c4c4c4", "#333333", 1.0),
    vlines_layer(PEAK_C, 0, 16, ixc, iyc),
    curve_layer(KDE_C_AGE, KDE_C_VAL, ixc, iyc, "#e3201b", 2.0),
    texts([("1935Ma", 2112, 13.6), ("1858Ma", 1725, 5.8)], ixc, iyc, 13),
    *arrows([(2055, 14.2, 1978, 14.6), (1747, 5.0, 1805, 3.1)], ixc, iyc, kic[0], kic[1], head=28),
]
panel_c = panel(main_c, inset_c, WC, HC)

# =============== panel d ===============
WD, HD = 536, 441
XDD, YDD = [5.0, 6.0], [0.315, 0.370]
sxd, syd = mscale(XDD, YDD)
xad, yad = main_axes([5.0, 5.2, 5.4, 5.6, 5.8, 6.0], ".1f", [0.315, 0.325, 0.335, 0.345, 0.355, 0.365], ".3f",
                     ext=52, tpad=15)
D_AGE_LABELS = [("1830", 5.048, 0.3307), ("1850", 5.127, 0.334), ("1870", 5.249, 0.3382), ("1890", 5.376, 0.3421),
                ("1910", 5.503, 0.3463), ("1930", 5.634, 0.3506), ("1950", 5.768, 0.3548), ("1970", 5.903, 0.3588)]
D_NOTES = [("Metamorphic", 5.181, 0.3556), ("weighted age 1876±10Ma", 5.181, 0.3535), ("(n=16,MSWD=0.88)", 5.181, 0.3513)]
main_d = [
    ellipses(D_ELL, sxd, syd, None, "#111111", 0.8),
    *concordia(sxd, syd, xad, yad, LINE_D, MARK_D, "black", 1.3, "#3a3aa8", 45),
    minor_ticks(sxd, syd, XDD, YDD, [5.1, 5.3, 5.5, 5.7, 5.9], [0.32, 0.33, 0.34, 0.35, 0.36], WD, HD),
    texts([("d", 5.04, 0.3671)], sxd, syd, 32, align="left"),
    texts([("HT53-1", 5.04, 0.3638)], sxd, syd, 15, align="left"),
    texts(D_AGE_LABELS, sxd, syd, 18),
    texts(D_NOTES, sxd, syd, 14),
]
IXD, IYD = (323, 517), (246, 409)
IXDD, IYDD = [0, 17], [1760, 2020]
ixd, iyd = inset_scales(IXDD, IYDD, IXD, IYD)
inset_d = [
    inset_frame(IXDD, IYDD, ixd, iyd, None,
                inset_yaxis([1760, 1800, 1840, 1880, 1920, 1960, 2000], IXD[0], None, 7)),
    bars_layer(D_LO, D_HI, ixd, iyd, "#e3201b", 4),
    hline_layer(D_MEAN, IXDD, ixd, iyd, "#a6d9a6", 2.5),
]
panel_d = panel(main_d, inset_d, WD, HD)

# =============== panel e ===============
WE, HE = 551, 456
XDE, YDE = [4, 10], [0.28, 0.48]
sxe, sye = mscale(XDE, YDE)
xae, yae = main_axes([4, 5, 6, 7, 8, 9, 10], "d", [0.28, 0.32, 0.36, 0.40, 0.44, 0.48], ".2f")
ke = (WE / 6.0, HE / 0.2)
E_AGE_LABELS = [("1800", 4.6, 0.3252), ("2000", 5.88, 0.367), ("2200", 7.44, 0.4097), ("2400", 9.34, 0.4542)]
E_NOTES = [("Magmatic", 7.04, 0.4489), ("weighted age 2266±20Ma", 7.04, 0.4416), ("(n=8,MSWD=2.1)", 7.04, 0.4345),
           ("Metamorphic", 8.71, 0.3917), ("weighted age 1911.4±4.1Ma", 8.71, 0.3841),
           ("(n=60,MSWD=1.11)", 8.71, 0.3768)]
E_ARROWS = [(7.98, 0.4378, 8.31, 0.4287), (6.21, 0.3374, 7.11, 0.3302)]
main_e = [
    ellipses(E_DASH, sxe, sye, None, "#444444", 0.8, DASH),
    ellipses(E_DARK, sxe, sye, DARK, EDGE),
    ellipses(E_LIGHT, sxe, sye, LIGHT, "#4a4a4a"),
    *concordia(sxe, sye, xae, yae, CONC_AGE, MARK_E, "black", 1.3, "#3a3aa8", 45),
    minor_ticks(sxe, sye, XDE, YDE, [4.5, 5.5, 6.5, 7.5, 8.5, 9.5], [0.30, 0.34, 0.38, 0.42, 0.46], WE, HE),
    texts([("e", 4.42, 0.4686)], sxe, sye, 32, align="left"),
    texts([("HT54-1", 4.42, 0.4572)], sxe, sye, 15, align="left"),
    texts(E_AGE_LABELS, sxe, sye, 18),
    texts(E_NOTES, sxe, sye, 14),
    *arrows(E_ARROWS, sxe, sye, ke[0], ke[1]),
]
IXE, IYE = (330, 546), (262, 441)
IXDE, IYDE = [0.24, 60.94], [1810, 2010]
ixe, iye = inset_scales(IXDE, IYDE, IXE, IYE)
inset_e = [
    inset_frame(IXDE, IYDE, ixe, iye, None,
                inset_yaxis([1810, 1830, 1850, 1870, 1890, 1910, 1930, 1950, 1970, 1990, 2010], IXE[0], None, 7)),
    bars_layer(E_LO, E_HI, ixe, iye, "#f07878", 1.3),
    hline_layer(E_MEAN, IXDE, ixe, iye, "#2b7d2b", 2),
]
panel_e = panel(main_e, inset_e, WE, HE)

# =============== panel f ===============
WF, HF = 536, 455
XDF, YDF = [3.5, 9.5], [0.28, 0.46]
sxf, syf = mscale(XDF, YDF)
xaf, yaf = main_axes([3.5, 4.5, 5.5, 6.5, 7.5, 8.5, 9.5], ".1f", [0.28, 0.32, 0.36, 0.40, 0.44], ".2f",
                     ext=45, tpad=22)
kf = (WF / 6.0, HF / 0.18)
F_AGE_LABELS = [("1650", 3.78, 0.2944), ("1750", 4.32, 0.3147), ("1850", 4.89, 0.3352), ("1950", 5.51, 0.3562),
                ("2050", 6.24, 0.3773), ("2150", 7.02, 0.3989), ("2250", 7.88, 0.4208), ("2350", 8.81, 0.4432)]
F_NOTES = [("Magmatic", 6.43, 0.427), ("weighted age 2232±18Ma", 6.43, 0.4205), ("(n=8,MSWD=2.1)", 6.43, 0.414),
           ("Metamorphic 2 (dark grey)", 5.05, 0.3873), ("weighted age1955±27Ma", 5.05, 0.3808),
           ("(n=5,MSWD=2.0)", 5.05, 0.374),
           ("Metamorphic 1(light blue)", 5.34, 0.301), ("weighted age1851±17Ma", 5.34, 0.2945),
           ("(n=15,MSWD=3.9)", 5.34, 0.2882)]
F_ARROWS = [(7.16, 0.4137, 7.56, 0.4071), (4.98, 0.3647, 5.27, 0.3574), (5.48, 0.3058, 5.21, 0.3181)]
main_f = [
    ellipses(F_BLUE, sxf, syf, "#5ab6e6", "#2a5f7a"),
    ellipses(F_DARK, sxf, syf, DARK, EDGE),
    ellipses(F_LIGHT, sxf, syf, LIGHT, "#4a4a4a"),
    *concordia(sxf, syf, xaf, yaf, CONC_AGE, MARK_F, "black", 1.3, "#222222", 45),
    minor_ticks(sxf, syf, XDF, YDF, [4, 5, 6, 7, 8, 9], [0.30, 0.34, 0.38, 0.42], WF, HF),
    texts([("f", 3.93, 0.4496)], sxf, syf, 32, align="left"),
    texts([("HT56-2", 3.93, 0.4386)], sxf, syf, 15, align="left"),
    texts(F_AGE_LABELS, sxf, syf, 18),
    texts(F_NOTES, sxf, syf, 14),
    *arrows(F_ARROWS, sxf, syf, kf[0], kf[1]),
]
IXF, IYF = (277, 524), (257, 430)
IXDF, IYDF = [1750, 2450], [0, 6]
ixf, iyf = inset_scales(IXDF, IYDF, IXF, IYF)
kif = ((IXF[1] - IXF[0]) / 700.0, (IYF[1] - IYF[0]) / 6.0)
inset_f = [
    inset_frame(IXDF, IYDF, ixf, iyf,
                inset_xaxis([1750, 1850, 1950, 2050, 2150, 2250, 2350, 2450], HF, IYF[1],
                            "²⁰⁷Pb/²⁰⁶Pb age (Ma)", 7, 8),
                inset_yaxis([0, 1, 2, 3, 4, 5, 6], IXF[0], "Number", 7, 8)),
    hist_layer(HIST_F_LEFT, HIST_F_COUNT, HIST_F_WIDTH, ixf, iyf, "#d9d9d9", "#333333", 1.0),
    vlines_layer(PEAK_F, 0, 6, ixf, iyf),
    curve_layer(KDE_F_AGE, KDE_F_VAL, ixf, iyf, "#e3201b", 2.0),
    texts([("1851Ma", 1928, 5.65), ("1955Ma", 2088, 2.25), ("2240Ma", 2232, 4.3)], ixf, iyf, 12),
    *arrows([(1885, 5.42, 1860, 5.18), (2025, 2.3, 1985, 2.36)], ixf, iyf, kif[0], kif[1], head=26),
]
panel_f = panel(main_f, inset_f, WF, HF)

# =============== layout ===============
chart = (alt.concat(panel_a, panel_b, panel_c, panel_d, panel_e, panel_f, columns=2,
                    spacing={"row": 92, "column": 138.4}, bounds="flush", center=True)
         .properties(padding={"left": 5, "top": 0, "right": 0, "bottom": 0})
         .configure_view(stroke="black", strokeWidth=1.4))

chart.save("out.html", embed_options={"renderer": "svg", "actions": False})
